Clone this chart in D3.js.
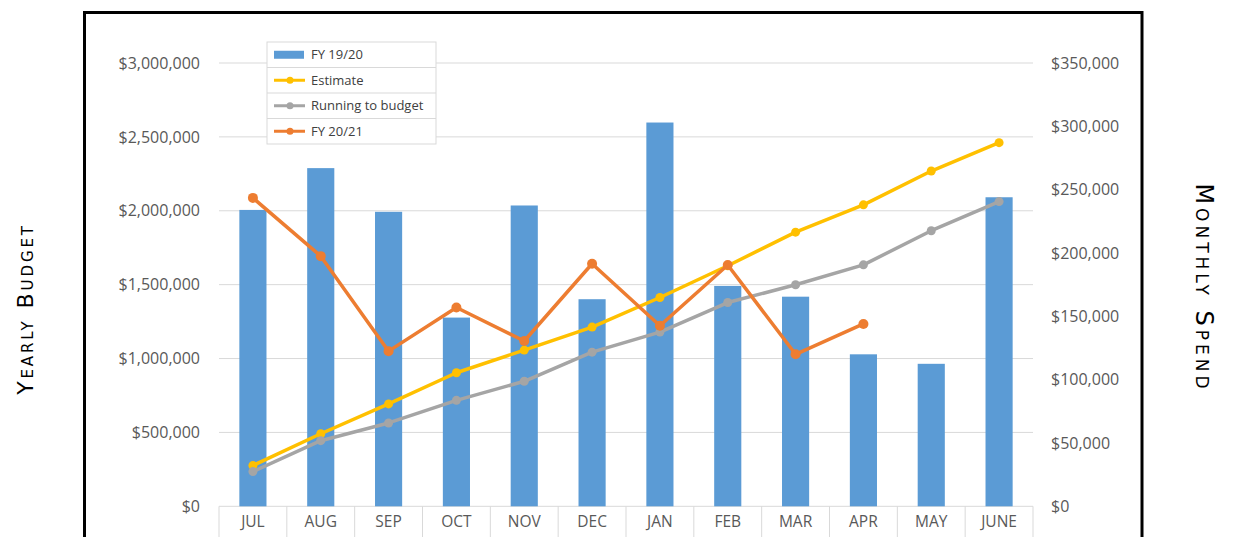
<!DOCTYPE html>
<html>
<head>
<meta charset="utf-8">
<script src="https://cdn.jsdelivr.net/npm/d3@7"></script>
<style>
  html, body { margin: 0; padding: 0; background: #fff; }
  svg { display: block; }
  .tick text { fill: #595959; font-family: "Open Sans", sans-serif; }
  .axis-title { font-family: "DejaVu Sans", sans-serif; font-variant: small-caps; fill: #000; }
  .legend-text { font-family: "Open Sans", sans-serif; font-size: 13px; fill: #404040; }
</style>
</head>
<body>
<div id="viewportContainer"></div>
<script>
/* --- データ --- */
const months = ["JUL", "AUG", "SEP", "OCT", "NOV", "DEC", "JAN", "FEB", "MAR", "APR", "MAY", "JUNE"];

// monthly spend (right axis)
const fy1920 = [234000, 267000, 232500, 149000, 237500, 163500, 303000, 174000, 165500, 120000, 112500, 244000];
const fy2021 = [243500, 197500, 122500, 157000, 130500, 191500, 142500, 190500, 120000, 144000];

// cumulative (left axis)
const estimate = [276000, 491000, 693000, 904000, 1057000, 1213000, 1413000, 1628000, 1855000, 2040000, 2269000, 2461000];
const runningToBudget = [235000, 444000, 564000, 717000, 846000, 1043000, 1179000, 1379000, 1499000, 1634000, 1865000, 2062000];

const leftTicks = [0, 500000, 1000000, 1500000, 2000000, 2500000, 3000000];
const rightTicks = [0, 50000, 100000, 150000, 200000, 250000, 300000, 350000];

const legendItems = [
    { label: "FY 19/20", type: "bar", color: "#5B9BD5" },
    { label: "Estimate", type: "line", color: "#FFC000" },
    { label: "Running to budget", type: "line", color: "#A5A5A5" },
    { label: "FY 20/21", type: "line", color: "#ED7D31" }
];

/* --- ビューポート --- */
const viewport = { width: 1236, height: 537 };
const plot = { left: 219, right: 1033, top: 63, bottom: 506.3 };

const svg = d3.select("#viewportContainer")
    .append("svg")
    .attr("width", viewport.width)
    .attr("height", viewport.height);

/*--- スケール ---*/
const xScale = d3.scaleBand().domain(months).range([plot.left, plot.right]).padding(0);
const yLeft = d3.scaleLinear().domain([0, 3000000]).range([plot.bottom, plot.top]);
const yRight = d3.scaleLinear().domain([0, 350000]).range([plot.bottom, plot.top]);

const fmt = d => "$" + d3.format(",")(d);

/*--- グリッド ---*/
svg.append("g")
    .selectAll("line")
    .data(leftTicks.slice(1))
    .enter()
    .append("line")
    .attr("x1", plot.left)
    .attr("x2", plot.right)
    .attr("y1", d => yLeft(d))
    .attr("y2", d => yLeft(d))
    .attr("stroke", "#d9d9d9")
    .attr("stroke-width", 1);

/*--- 軸 ---*/
const leftAxis = svg.append("g")
    .attr("transform", "translate(" + plot.left + ",0)")
    .call(d3.axisLeft(yLeft).tickValues(leftTicks).tickFormat(fmt).tickSize(0).tickPadding(19));

const rightAxis = svg.append("g")
    .attr("transform", "translate(" + plot.right + ",0)")
    .call(d3.axisRight(yRight).tickValues(rightTicks).tickFormat(fmt).tickSize(0).tickPadding(18));

[leftAxis, rightAxis].forEach(a => {
    a.select(".domain").remove();
    a.selectAll("text").style("font-size", "16px");
});

// category axis drawn as a table row
const catAxis = svg.append("g");
catAxis.append("line")
    .attr("x1", plot.left).attr("x2", plot.right)
    .attr("y1", plot.bottom).attr("y2", plot.bottom)
    .attr("stroke", "#d9d9d9");
catAxis.selectAll(".sep")
    .data(months.map(m => xScale(m)).concat([plot.right]))
    .enter()
    .append("line")
    .attr("class", "sep")
    .attr("x1", d => d).attr("x2", d => d)
    .attr("y1", plot.bottom).attr("y2", viewport.height + 5)
    .attr("stroke", "#d9d9d9");
catAxis.selectAll("text")
    .data(months)
    .enter()
    .append("text")
    .attr("x", d => xScale(d) + xScale.bandwidth() / 2)
    .attr("y", 527)
    .attr("text-anchor", "middle")
    .style("font-family", "'Open Sans', sans-serif")
    .style("font-size", "15.5px")
    .style("fill", "#595959")
    .text(d => d);

/*--- 棒 ---*/
const barW = xScale.bandwidth() * 0.4;
svg.append("g")
    .selectAll("rect")
    .data(fy1920)
    .enter()
    .append("rect")
    .attr("x", (d, i) => xScale(months[i]) + (xScale.bandwidth() - barW) / 2)
    .attr("y", d => yRight(d))
    .attr("width", barW)
    .attr("height", d => plot.bottom - yRight(d))
    .attr("fill", "#5B9BD5");

/*--- 線 ---*/
const drawLine = function(values, scale, color, r) {
    const cx = (d, i) => xScale(months[i]) + xScale.bandwidth() / 2;
    const line = d3.line().x(cx).y(d => scale(d));
    const g = svg.append("g");
    g.append("path")
        .datum(values)
        .attr("d", line)
        .attr("fill", "none")
        .attr("stroke", color)
        .attr("stroke-width", 3.5)
        .attr("stroke-linejoin", "round");
    g.selectAll("circle")
        .data(values)
        .enter()
        .append("circle")
        .attr("cx", cx)
        .attr("cy", d => scale(d))
        .attr("r", r)
        .attr("fill", color);
};

drawLine(estimate, yLeft, "#FFC000", 4.5);
drawLine(runningToBudget, yLeft, "#A5A5A5", 4.5);
drawLine(fy2021, yRight, "#ED7D31", 5);

/*--- 凡例 ---*/
const legend = svg.append("g").attr("transform", "translate(267,42)");
const rowH = 25.5;
legend.append("rect")
    .attr("width", 169)
    .attr("height", rowH * legendItems.length)
    .attr("fill", "#fff")
    .attr("stroke", "#d9d9d9");
const rows = legend.selectAll(".row")
    .data(legendItems)
    .enter()
    .append("g")
    .attr("class", "row")
    .attr("transform", (d, i) => "translate(0," + (i * rowH) + ")");
rows.filter((d, i) => i > 0)
    .append("line")
    .attr("x1", 0).attr("x2", 169)
    .attr("y1", 0).attr("y2", 0)
    .attr("stroke", "#d9d9d9");
rows.filter(d => d.type === "bar")
    .append("rect")
    .attr("x", 7).attr("y", rowH / 2 - 4)
    .attr("width", 30).attr("height", 8)
    .attr("fill", d => d.color);
rows.filter(d => d.type === "line")
    .append("line")
    .attr("x1", 7).attr("x2", 38)
    .attr("y1", rowH / 2).attr("y2", rowH / 2)
    .attr("stroke", d => d.color)
    .attr("stroke-width", 3);
rows.filter(d => d.type === "line")
    .append("circle")
    .attr("cx", 23).attr("cy", rowH / 2)
    .attr("r", 3.5)
    .attr("fill", d => d.color);
rows.append("text")
    .attr("class", "legend-text")
    .attr("x", 44)
    .attr("y", rowH / 2)
    .attr("dy", "0.35em")
    .text(d => d.label);

/*--- 軸タイトル ---*/
svg.append("text")
    .attr("class", "axis-title")
    .attr("transform", "translate(33,309) rotate(-90)")
    .attr("text-anchor", "middle")
    .style("font-size", "22px")
    .style("letter-spacing", "2.9px")
    .text("Yearly Budget");

svg.append("text")
    .attr("class", "axis-title")
    .attr("transform", "translate(1196,288) rotate(90)")
    .attr("text-anchor", "middle")
    .style("font-size", "24px")
    .style("letter-spacing", "4px")
    .text("Monthly Spend");

/*--- 枠 ---*/
svg.append("rect")
    .attr("x", 84.5)
    .attr("y", 12.5)
    .attr("width", 1057.5)
    .attr("height", 600)
    .attr("fill", "none")
    .attr("stroke", "#000")
    .attr("stroke-width", 3);
</script>
</body>
</html>
